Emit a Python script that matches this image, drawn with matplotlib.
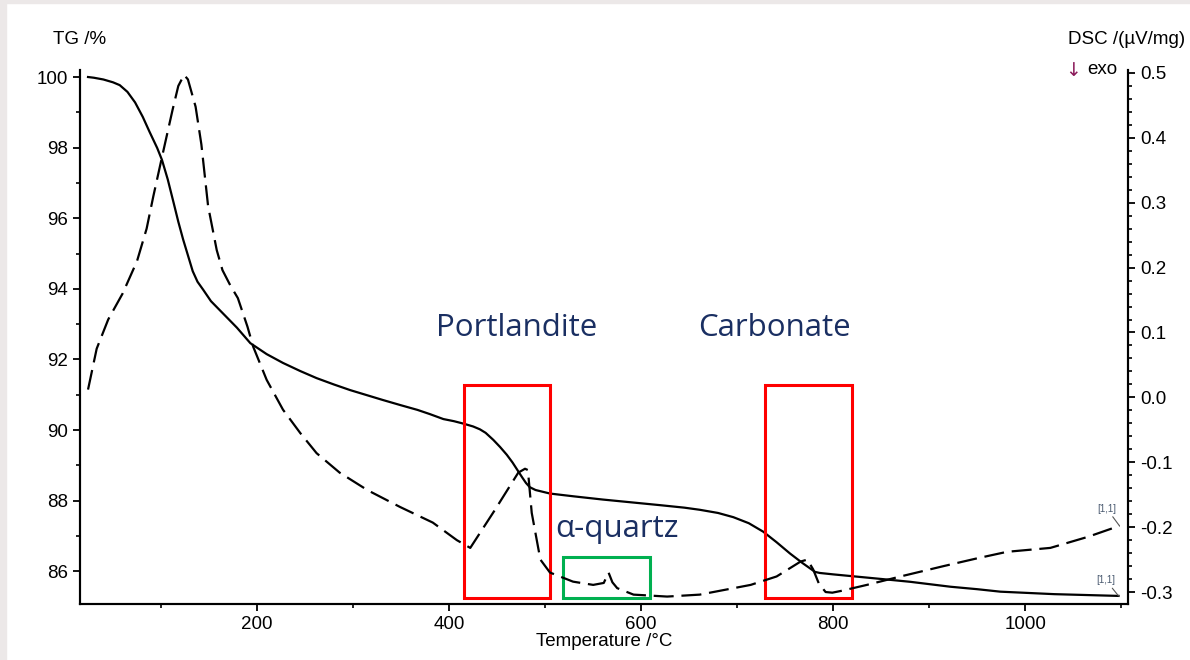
import matplotlib
matplotlib.use("Agg")
import matplotlib.pyplot as plt
from matplotlib.patches import Rectangle
from matplotlib.ticker import MultipleLocator, FormatStrFormatter

plt.rcParams['font.family'] = ['Liberation Sans', 'DejaVu Sans']
plt.rcParams['axes.unicode_minus'] = False

# TG curve (left axis, %)
tg_temp = [24, 30, 40, 50, 57, 65, 73, 81, 88, 96, 101, 107, 113, 118, 123, 128, 133, 138,
           144, 152, 161, 170, 179, 193, 210, 227, 245, 262, 280, 297, 314, 331, 350, 367,
           380, 394, 405, 415, 425, 432, 438, 446, 453, 460, 466, 471, 476, 480, 484, 490,
           505, 530, 560, 590, 620, 645, 661, 680, 696, 712, 727, 741, 755, 768, 781, 786,
           800, 850, 880, 922, 950, 974, 1030, 1097]
tg_val = [100.0, 99.98, 99.93, 99.85, 99.77, 99.58, 99.28, 98.87, 98.45, 97.99, 97.65, 97.1,
          96.45, 95.9, 95.4, 94.95, 94.5, 94.2, 93.97, 93.65, 93.4, 93.15, 92.9, 92.46, 92.15,
          91.9, 91.67, 91.47, 91.29, 91.13, 90.99, 90.85, 90.7, 90.57, 90.45, 90.31, 90.25,
          90.18, 90.1, 90.02, 89.92, 89.72, 89.52, 89.3, 89.08, 88.87, 88.66, 88.5, 88.38,
          88.3, 88.2, 88.12, 88.03, 87.95, 87.87, 87.8, 87.74, 87.65, 87.53, 87.36, 87.12,
          86.82, 86.5, 86.23, 85.98, 85.95, 85.91, 85.78, 85.7, 85.56, 85.49, 85.42, 85.35,
          85.30]

# DSC curve (right axis, uV/mg)
dsc_temp = [24, 33, 45, 60, 75, 85, 92, 102, 112, 118, 124, 128, 136, 142, 149, 158, 164,
            172, 180, 190, 196, 210, 227, 245, 262, 286, 315, 349, 383, 408, 422, 447, 472,
            479, 482, 486, 495, 505, 529, 550, 561, 566, 570, 575, 592, 627, 661, 714, 741,
            766, 773, 779, 785, 792, 799, 809, 835, 870, 915, 950, 981, 1026, 1065, 1098]
dsc_val = [0.012, 0.075, 0.12, 0.16, 0.21, 0.26, 0.31, 0.377, 0.443, 0.48, 0.497, 0.49,
           0.448, 0.39, 0.295, 0.227, 0.196, 0.173, 0.153, 0.109, 0.078, 0.027, -0.019,
           -0.055, -0.086, -0.116, -0.143, -0.169, -0.193, -0.22, -0.232, -0.175, -0.116,
           -0.11, -0.112, -0.178, -0.25, -0.27, -0.284, -0.289, -0.286, -0.27, -0.285,
           -0.294, -0.304, -0.307, -0.304, -0.289, -0.276, -0.253, -0.25, -0.265, -0.287,
           -0.30, -0.301, -0.298, -0.289, -0.276, -0.26, -0.248, -0.238, -0.232, -0.215,
           -0.198]

fig = plt.figure(figsize=(11.9, 6.6), dpi=100)
ax = fig.add_axes([0.0672, 0.0848, 0.8808, 0.8092])
ax2 = ax.twinx()

ax.plot(tg_temp, tg_val, color='black', lw=1.6, solid_joinstyle='round')
ax2.plot(dsc_temp, dsc_val, color='black', lw=1.6, dashes=[9, 3.5])

ax.set_xlim(15.6, 1107)
ax.set_ylim(85.07, 100.2)
ax2.set_ylim(-0.3185, 0.5046)

ax.xaxis.set_major_locator(MultipleLocator(200))
ax.xaxis.set_minor_locator(MultipleLocator(100))
ax.yaxis.set_major_locator(MultipleLocator(2))
ax.yaxis.set_minor_locator(MultipleLocator(1))
ax2.yaxis.set_major_locator(MultipleLocator(0.1))
ax2.yaxis.set_minor_locator(MultipleLocator(0.02))
ax2.yaxis.set_major_formatter(FormatStrFormatter('%.1f'))

for a in (ax, ax2):
    a.spines['top'].set_visible(False)
    for s in a.spines.values():
        s.set_linewidth(1.5)
    a.tick_params(which='major', length=5, width=1.3, labelsize=13.5, direction='out')
    a.tick_params(which='minor', length=3, width=1.2, direction='out')

ax.set_xlabel('Temperature /°C', fontsize=13.5, labelpad=0)

fig.text(53 / 1190, 1 - 40 / 660, 'TG /%', fontsize=13.5, ha='left', va='center')
fig.text(1068 / 1190, 1 - 40 / 660, 'DSC /(µV/mg)', fontsize=13.5, ha='left', va='center')
fig.text(1065 / 1190, 1 - 70 / 660, '↓', fontsize=13.5, ha='left', va='center',
         color='#8B1A5A', family=['DejaVu Sans'])
fig.text(1087 / 1190, 1 - 70 / 660, 'exo', fontsize=13.5, ha='left', va='center')

# highlight boxes
boxes = [(415.6, 91.27, 505.5, 85.25, 'red'), (729, 91.27, 819, 85.25, 'red'),
         (519, 86.40, 609.5, 85.25, '#00B050')]
for x0, y1, x1, y0, c in boxes:
    ax.add_patch(Rectangle((x0, y0), x1 - x0, y1 - y0, fill=False, edgecolor=c,
                           lw=2.2, zorder=5))

navy = '#1A2F62'
ax.text(469.8, 92.9, 'Portlandite', color=navy, fontsize=22.5, family='Open Sans',
        ha='center', va='center')
ax.text(738.5, 92.9, 'Carbonate', color=navy, fontsize=22.5, family='Open Sans',
        ha='center', va='center')
ax.text(575, 87.2, 'α-quartz', color=navy, fontsize=22.5, family='Open Sans',
        ha='center', va='center')

# curve end markers
ax2.annotate('[1,1]', xy=(dsc_temp[-1], dsc_val[-1]), xytext=(-9, 10),
             textcoords='offset points', fontsize=7, color='#4A5A70', ha='center',
             arrowprops=dict(arrowstyle='-', color='#555555', lw=0.8, shrinkA=0, shrinkB=0))
ax.annotate('[1,1]', xy=(tg_temp[-1], tg_val[-1]), xytext=(-9, 9),
            textcoords='offset points', fontsize=7, color='#4A5A70', ha='center',
            arrowprops=dict(arrowstyle='-', color='#555555', lw=0.8, shrinkA=0, shrinkB=0))

# light grey frame on top/left edge
fig.patches.append(Rectangle((0, 0), 6 / 1190, 1, transform=fig.transFigure,
                             color='#ECE8E8', zorder=0))
fig.patches.append(Rectangle((0, 1 - 3 / 660), 1, 3 / 660, transform=fig.transFigure,
                             color='#ECE8E8', zorder=0))

fig.savefig('out.png', dpi=100)
